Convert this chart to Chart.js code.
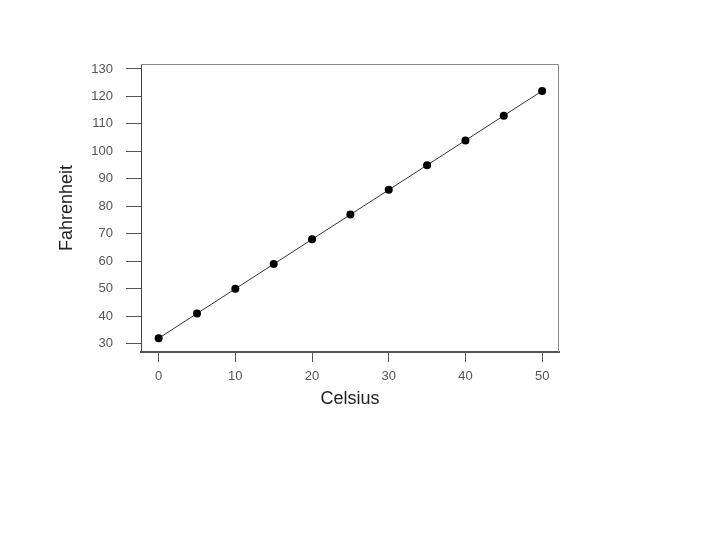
<!DOCTYPE html>
<html>
<head>
<meta charset="utf-8">
<script src="https://cdn.jsdelivr.net/npm/chart.js@4/dist/chart.umd.min.js"></script>
<style>
  html, body { margin: 0; padding: 0; background: #ffffff; }
  #wrap { width: 720px; height: 540px; }
</style>
</head>
<body>
<div id="wrap"><canvas id="c" width="720" height="540"></canvas></div>
<script>
const celsius = [0, 5, 10, 15, 20, 25, 30, 35, 40, 45, 50];
const fahrenheit = [32, 41, 50, 59, 68, 77, 86, 95, 104, 113, 122];
const xTicks = [0, 10, 20, 30, 40, 50];
const yTicks = [30, 40, 50, 60, 70, 80, 90, 100, 110, 120, 130];

const points = celsius.map((c, i) => ({ x: c, y: fahrenheit[i] }));

const boxPlugin = {
  id: 'boxPlugin',
  afterDraw(chart) {
    const { ctx, chartArea: a } = chart;
    ctx.save();
    ctx.strokeStyle = '#8a8a8a';
    ctx.lineWidth = 1;
    ctx.beginPath();
    ctx.moveTo(a.left, a.top + 0.5);
    ctx.lineTo(a.right - 0.5, a.top + 0.5);
    ctx.lineTo(a.right - 0.5, a.bottom);
    ctx.stroke();
    ctx.restore();
  }
};

new Chart(document.getElementById('c'), {
  type: 'scatter',
  data: {
    datasets: [{
      data: points,
      showLine: true,
      borderColor: '#333333',
      borderWidth: 1,
      pointRadius: 4,
      pointBackgroundColor: '#000000',
      pointBorderColor: '#000000',
      pointBorderWidth: 0
    }]
  },
  options: {
    responsive: false,
    animation: false,
    layout: { padding: { top: 64, right: 161, left: 0, bottom: 0 } },
    plugins: { legend: { display: false }, tooltip: { enabled: false } },
    scales: {
      x: {
        type: 'linear',
        min: -2.3,
        max: 52.2,
        afterFit(s) { s.height = 188; },
        afterBuildTicks(s) { s.ticks = xTicks.map(v => ({ value: v })); },
        grid: { drawOnChartArea: false, drawTicks: true, tickLength: 10, tickColor: '#555555', tickWidth: 1 },
        border: { display: true, color: '#555555', width: 2 },
        ticks: { color: '#555555', font: { family: 'Liberation Sans, Arial', size: 13 }, padding: 7, maxRotation: 0 },
        title: { display: true, text: 'Celsius', color: '#222222', font: { family: 'Liberation Sans, Arial', size: 18 }, padding: { top: 0, bottom: 130 } }
      },
      y: {
        type: 'linear',
        min: 27,
        max: 131.8,
        afterFit(s) { s.width = 141; },
        afterBuildTicks(s) { s.ticks = yTicks.map(v => ({ value: v })); },
        grid: { drawOnChartArea: false, drawTicks: true, tickLength: 15, tickColor: '#555555', tickWidth: 1 },
        border: { display: true, color: '#444444', width: 1 },
        ticks: { color: '#555555', font: { family: 'Liberation Sans, Arial', size: 13 }, padding: 13 },
        title: { display: true, text: 'Fahrenheit', color: '#222222', font: { family: 'Liberation Sans, Arial', size: 18 }, padding: { top: 56, bottom: 0 } }
      }
    }
  },
  plugins: [boxPlugin]
});
</script>
</body>
</html>
